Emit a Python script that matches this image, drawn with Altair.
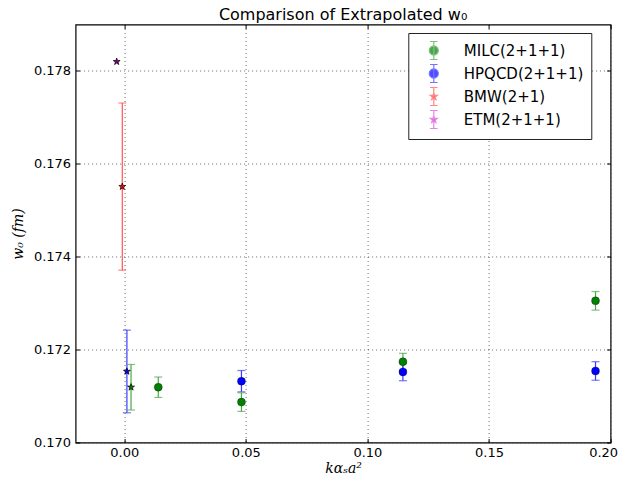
import math
import altair as alt
import pandas as pd

# ---- data ----
series = ["MILC(2+1+1)", "HPQCD(2+1+1)", "BMW(2+1)", "ETM(2+1+1)"]
fill_colors = ["#008000", "#0000ff", "#ff0000", "#800080"]
bar_colors = ["#4aa84a", "#3a3aff", "#ff5555", "#dd55dd"]

milc_x = [0.0028, 0.0140, 0.0482, 0.1146, 0.1938]
milc_y = [0.17119, 0.17119, 0.17087, 0.17174, 0.17305]
milc_err = [0.00049, 0.00022, 0.00020, 0.00018, 0.00020]
milc_marker = ["star", "circle", "circle", "circle", "circle"]

hpqcd_x = [0.0011, 0.0482, 0.1146, 0.1938]
hpqcd_y = [0.17153, 0.17132, 0.17152, 0.17154]
hpqcd_err = [0.00089, 0.00023, 0.00019, 0.00020]
hpqcd_marker = ["star", "circle", "circle", "circle"]

bmw_x = [-0.0008]
bmw_y = [0.17551]
bmw_err = [0.00180]
bmw_marker = ["star"]

etm_x = [-0.0031]
etm_y = [0.17820]
etm_err = [0.0]
etm_marker = ["star"]

x_ticks = [0.00, 0.05, 0.10, 0.15, 0.20]
y_ticks = [0.170, 0.172, 0.174, 0.176, 0.178]

rows = []
for name, xs_, ys_, es, ms in [
    (series[0], milc_x, milc_y, milc_err, milc_marker),
    (series[1], hpqcd_x, hpqcd_y, hpqcd_err, hpqcd_marker),
    (series[2], bmw_x, bmw_y, bmw_err, bmw_marker),
    (series[3], etm_x, etm_y, etm_err, etm_marker),
]:
    i = series.index(name)
    for x, y, e, m in zip(xs_, ys_, es, ms):
        rows.append(dict(series=name, x=x, y=y, err=e, lo=y - e, hi=y + e,
                         marker=m, fill=fill_colors[i], bar=bar_colors[i]))
df = pd.DataFrame(rows)
df_err = df[df["err"] > 0]


# ---- marker symbol paths ----
def star_path(R):
    r = R * 0.4
    pts = []
    for k in range(10):
        rad = R if k % 2 == 0 else r
        a = -math.pi / 2 + k * math.pi / 5
        pts.append((rad * math.cos(a), rad * math.sin(a)))
    return "M" + "L".join(f"{px:.3f},{py:.3f}" for px, py in pts) + "Z"


def circle_path(r):
    pts = []
    for k in range(24):
        a = 2 * math.pi * k / 24
        pts.append((r * math.cos(a), r * math.sin(a)))
    return "M" + "L".join(f"{px:.3f},{py:.3f}" for px, py in pts) + "Z"


bar_path = "M0,-1L0,1M-0.42,-1L0.42,-1M-0.42,1L0.42,1"
legend_shapes = [bar_path + circle_path(0.5), bar_path + circle_path(0.5),
                 bar_path + star_path(0.4), bar_path + star_path(0.4)]

xs = alt.Scale(domain=[-0.02, 0.20], nice=False, zero=False)
ys = alt.Scale(domain=[0.170, 0.179], nice=False, zero=False)

TICK = 4
x_axis = alt.Axis(values=x_ticks, format=".2f", title="kαₛa²", orient="bottom",
                  grid=True, ticks=True, tickSize=TICK, offset=-TICK,
                  labelPadding=4, titlePadding=2, labelFlush=True,
                  labelFlushOffset=7)
y_axis = alt.Axis(values=y_ticks, format=".3f", title="w₀ (fm)", orient="left",
                  grid=True, ticks=True, tickSize=TICK, offset=-TICK,
                  labelPadding=5, titlePadding=8, labelFlush=False)
x_axis_top = alt.Axis(values=x_ticks, orient="top", labels=False, title=None,
                      grid=False, ticks=True, tickSize=TICK, offset=-TICK)
y_axis_right = alt.Axis(values=y_ticks, orient="right", labels=False, title=None,
                        grid=False, ticks=True, tickSize=TICK, offset=-TICK)

base = alt.Chart(df)

rules = alt.Chart(df_err).mark_rule(strokeWidth=1.2).encode(
    x=alt.X("x:Q", scale=xs, axis=x_axis),
    y=alt.Y("lo:Q", scale=ys, axis=y_axis), y2="hi:Q",
    color=alt.Color("bar:N", scale=None))
caps_lo = alt.Chart(df_err).mark_tick(orient="horizontal", size=8, thickness=1.2).encode(
    x=alt.X("x:Q", scale=xs, axis=None), y=alt.Y("lo:Q", scale=ys, axis=None),
    color=alt.Color("bar:N", scale=None))
caps_hi = alt.Chart(df_err).mark_tick(orient="horizontal", size=8, thickness=1.2).encode(
    x=alt.X("x:Q", scale=xs, axis=None), y=alt.Y("hi:Q", scale=ys, axis=None),
    color=alt.Color("bar:N", scale=None))

circles = base.transform_filter(alt.datum.marker == "circle").mark_point(
    filled=True, shape="circle", size=64, stroke="#000000", strokeWidth=0.5,
    strokeOpacity=0.6, opacity=1).encode(
    x=alt.X("x:Q", scale=xs, axis=None), y=alt.Y("y:Q", scale=ys, axis=None),
    fill=alt.Fill("fill:N", scale=None))
stars = base.transform_filter(alt.datum.marker == "star").mark_point(
    filled=True, shape=star_path(1.0), size=52, stroke="#000000", strokeWidth=0.7,
    opacity=1).encode(
    x=alt.X("x:Q", scale=xs, axis=x_axis_top), y=alt.Y("y:Q", scale=ys, axis=y_axis_right),
    fill=alt.Fill("fill:N", scale=None))

leg = alt.Legend(orient="none", legendX=332.7, legendY=8.5, title=None,
                 padding=7.5, strokeColor="#222222", fillColor="white",
                 cornerRadius=0, symbolSize=324, symbolStrokeWidth=1.2,
                 symbolOffset=8, labelOffset=20, labelFontSize=15,
                 labelFont="DejaVu Sans", labelColor="black", rowPadding=-1,
                 labelLimit=300, symbolOpacity=1)

legend_layer = alt.Chart(pd.DataFrame({"series": series})).transform_filter(
    "false").mark_point(filled=True, opacity=1).encode(
    x=alt.X("x:Q", scale=xs, axis=None), y=alt.Y("y:Q", scale=ys, axis=None),
    shape=alt.Shape("series:N", scale=alt.Scale(domain=series, range=legend_shapes),
                    sort=series, legend=leg),
    color=alt.Color("series:N", scale=alt.Scale(domain=series, range=fill_colors),
                    sort=series, legend=leg),
    stroke=alt.Stroke("series:N", scale=alt.Scale(domain=series, range=bar_colors),
                      sort=series, legend=leg),
)

chart = alt.layer(rules, caps_lo, caps_hi, circles, stars, legend_layer).resolve_axis(
    x="independent", y="independent").properties(
    width=535, height=418,
    title=alt.Title("Comparison of Extrapolated w₀", font="DejaVu Sans",
                    fontSize=16, fontWeight="normal", color="black", offset=1),
    autosize=alt.AutoSizeParams(type="none"),
    padding={"left": 67.6, "top": 16.5, "right": 8, "bottom": 36.5},
).configure_view(stroke="black", strokeWidth=1.2).configure_axis(
    gridColor="#444444", gridDash=[1, 3], gridWidth=1, gridOpacity=0.8,
    tickColor="black", tickWidth=1,
    domain=False, labelFont="DejaVu Sans", labelFontSize=13,
    labelColor="black", titleFont="DejaVu Serif", titleFontStyle="italic",
    titleFontWeight="normal", titleFontSize=14, titleColor="black",
)

chart.save("out.html", embed_options={"renderer": "svg", "actions": False})
